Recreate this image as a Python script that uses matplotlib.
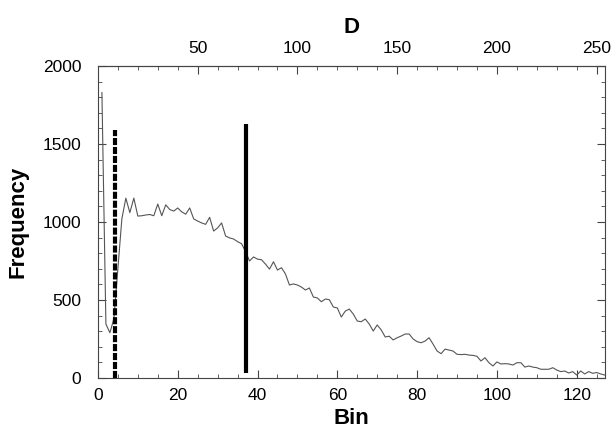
import numpy as np
import matplotlib
matplotlib.use("Agg")
import matplotlib.pyplot as plt
from matplotlib.ticker import MultipleLocator

plt.rcParams['font.family'] = ['Liberation Sans', 'DejaVu Sans']

# frequency per bin (bins 1..127)
bins = list(range(1, 128))
freq = [1830, 346, 290, 380, 700, 1020, 1153, 1060, 1153, 1038,
        1040, 1045, 1048, 1040, 1115, 1040, 1110, 1080, 1070, 1090,
        1065, 1050, 1090, 1020, 1006, 994, 985, 1030, 942, 962,
        994, 910, 898, 891, 874, 861, 810, 750, 776, 762,
        758, 730, 698, 745, 692, 707, 667, 596, 603, 596,
        583, 564, 577, 519, 513, 489, 506, 502, 455, 449,
        391, 429, 442, 410, 365, 361, 378, 346, 301, 340,
        308, 263, 268, 244, 258, 269, 282, 282, 250, 233,
        226, 237, 258, 217, 173, 156, 185, 179, 173, 152,
        150, 152, 147, 145, 139, 109, 130, 98, 77, 103,
        90, 92, 90, 83, 98, 98, 70, 77, 70, 66,
        56, 56, 56, 66, 51, 41, 45, 32, 41, 19,
        45, 26, 41, 30, 35, 26, 19]

# marker lines: (bin, ymin, ymax)
dashed_mark = (4.3, 0, 1590)
solid_mark = (37, 30, 1630)

fig = plt.figure(figsize=(6.12, 4.37), dpi=100)
ax = fig.add_axes([0.160, 0.135, 0.828, 0.714])

ax.plot(bins, freq, color='#555555', lw=0.8)
ax.vlines(dashed_mark[0], dashed_mark[1], dashed_mark[2], color='black',
          lw=3.0, linestyles=(0, (1.7, 0.45)))
ax.vlines(solid_mark[0], solid_mark[1], solid_mark[2], color='black', lw=3.0)

ax.set_xlim(0, 127)
ax.set_ylim(0, 2000)
ax.xaxis.set_major_locator(MultipleLocator(20))
ax.xaxis.set_minor_locator(MultipleLocator(5))
ax.yaxis.set_major_locator(MultipleLocator(500))
ax.yaxis.set_minor_locator(MultipleLocator(100))
ax.tick_params(which='both', direction='in', top=False, right=True,
               labelsize=12.5, color='#444444')
ax.tick_params(which='major', length=6)
ax.tick_params(axis='x', which='major', pad=7)
ax.tick_params(axis='y', which='major', pad=12)
ax.tick_params(which='minor', length=3)
for s in ax.spines.values():
    s.set_color('#444444')

ax.set_xlabel('Bin', fontsize=16, fontweight='bold', labelpad=4)
ax.set_ylabel('Frequency', fontsize=16, fontweight='bold', labelpad=10)

top = ax.secondary_xaxis('top', functions=(lambda b: 2 * b, lambda d: d / 2))
top.set_xticks([50, 100, 150, 200, 250])
top.xaxis.set_minor_locator(MultipleLocator(10))
top.tick_params(which='both', direction='in', labelsize=12.5, color='#444444')
top.tick_params(which='major', length=6, pad=7)
top.tick_params(which='minor', length=3)
top.spines['top'].set_color('#444444')
top.set_xlabel('D', fontsize=16, fontweight='bold', labelpad=6)

fig.savefig('out.png', dpi=100)
